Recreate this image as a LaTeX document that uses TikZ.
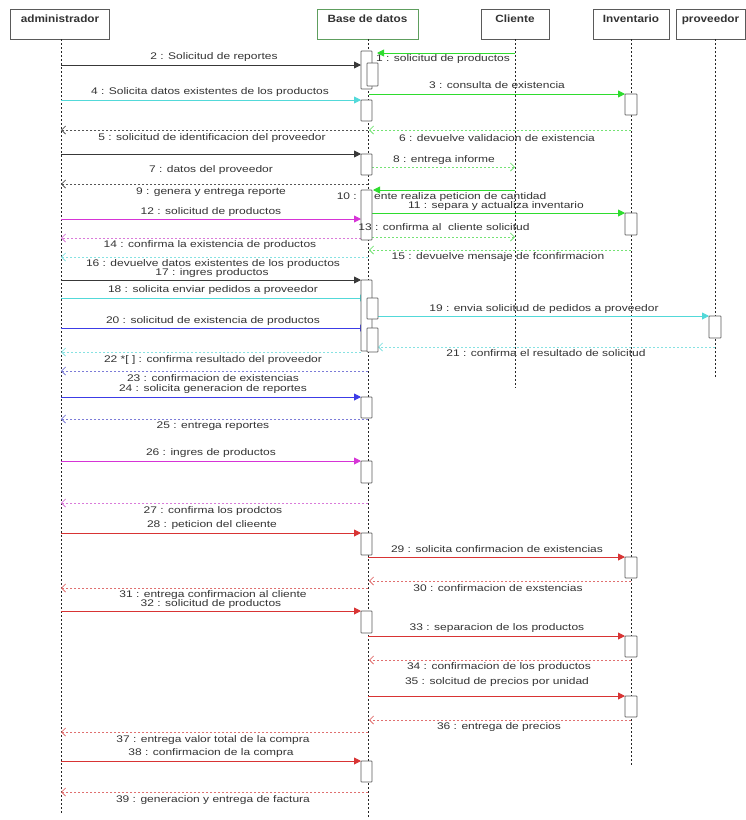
\documentclass[tikz,border=0pt]{standalone}
\usepackage{fontspec}
\setmainfont{Liberation Sans}
\newfontfamily\lblfont[FakeStretch=1.25]{Liberation Sans}
\newfontfamily\hdrfont[FakeStretch=1.12]{Liberation Sans}
\usetikzlibrary{arrows.meta}
\definecolor{cgreen}{HTML}{2EDC2E}
\definecolor{cgreenl}{HTML}{74E274}
\definecolor{ccyan}{HTML}{52D9D9}
\definecolor{ccyanl}{HTML}{86E2E2}
\definecolor{cmag}{HTML}{D634D6}
\definecolor{cmagl}{HTML}{DA7ADA}
\definecolor{cblue}{HTML}{3C3CE6}
\definecolor{cbluel}{HTML}{7C7CD8}
\definecolor{cred}{HTML}{D83434}
\definecolor{credl}{HTML}{E07070}
\definecolor{cblk}{HTML}{383838}
\definecolor{cblkl}{HTML}{555555}
\definecolor{ctxt}{HTML}{333333}
\definecolor{cbox}{HTML}{5A5A5A}
\definecolor{cbdg}{HTML}{5E9E5E}
\tikzset{
  hdr/.style={draw=cbox, line width=0.7pt, fill=white, minimum height=30pt,
    inner sep=0pt, text height=9pt, text depth=12pt, text=ctxt,
    font=\hdrfont\bfseries\fontsize{10.5}{12}\selectfont},
  life/.style={draw=black!85, line width=0.6pt, dash pattern=on 2pt off 2pt},
  sync/.style={draw=#1, line width=0.9pt, -{Triangle[length=7pt,width=7pt]}},
  ret/.style={draw=#1, line width=0.8pt, dash pattern=on 2pt off 2pt,
    -{Straight Barb[length=4pt,width=8pt]}},
  act/.style={draw=cbox, line width=0.8pt, fill=white, rounded corners=0.6pt},
  lbl/.style={inner sep=0pt, text=ctxt, text height=6.8pt, text depth=1.8pt,
    font=\lblfont\fontsize{9.6}{11}\selectfont}
}
\newcommand\msg[5]{\coordinate (#2a) at (#3,#5); \coordinate (#2b) at (#4,#5); \draw[#1] (#2a) -- (#2b);}
\newcommand\lbl[4]{\node[lbl] (#1) at (#2,#3) {#4};}
\newcommand\actbox[4]{\path[act] (#1,#3) rectangle (#2,#4);}
\begin{document}
\begin{tikzpicture}[x=1pt,y=-1pt]
\useasboundingbox (0,0) rectangle (746,820);
% headers
\node[hdr, minimum width=99pt] (admin) at (60,24) {administrador};
\node[hdr, minimum width=101pt, draw=cbdg] (bd) at (367.5,24) {Base de datos};
\node[hdr, minimum width=68pt] (cli) at (515,24) {Cliente};
\node[hdr, minimum width=76pt] (inv) at (631,24) {Inventario};
\node[hdr, minimum width=69pt] (prov) at (710.5,24) {proveedor};
% lifelines
\coordinate (adminE) at (61,815);
\coordinate (bdE) at (368,818);
\coordinate (cliE) at (515,388);
\coordinate (invE) at (631,765);
\coordinate (provS) at (715,39);
\coordinate (provE) at (715,378);
\draw[life] ([xshift=1pt]admin.south) -- (adminE);
\draw[life] ([xshift=0.5pt]bd.south) -- (bdE);
\draw[life] (cli.south) -- (cliE);
\draw[life] (inv.south) -- (invE);
\draw[life] (provS) -- (provE);
% labels
\lbl{l1}{443}{59}{1 : solicitud de productos}
\lbl{l2}{214}{57}{2 : Solicitud de reportes}
\lbl{l3}{497}{86}{3 : consulta de existencia}
\lbl{l4}{210}{92}{4 : Solicita datos existentes de los productos}
\lbl{l5}{212}{138}{5 : solicitud de identificacion del proveedor}
\lbl{l6}{497}{139}{6 : devuelve validacion de existencia}
\lbl{l7}{211}{170}{7 : datos del proveedor}
\lbl{l8}{444}{160}{8 : entrega informe}
\lbl{l9}{211}{192}{9 : genera y entrega reporte}
\node[lbl, anchor=east] (l10a) at (357,197) {10 :};
\node[lbl, anchor=west] (l10b) at (374,197) {ente realiza peticion de cantidad};
\lbl{l11}{496}{206}{11 : separa y actualiza inventario}
\lbl{l12}{211}{212}{12 : solicitud de productos}
\lbl{l14}{210}{245}{14 : confirma la existencia de productos}
\lbl{l15}{498}{257}{15 : devuelve mensaje de fconfirmacion}
\lbl{l16}{213}{263.5}{16 : devuelve datos existentes de los productos}
\lbl{l17}{212}{273}{17 : ingres productos}
\lbl{l18}{213}{290}{18 : solicita enviar pedidos a proveedor}
\lbl{l19}{544}{309}{19 : envia solicitud de pedidos a proveedor}
\lbl{l20}{213}{321}{20 : solicitud de existencia de productos}
\lbl{l21}{546}{354}{21 : confirma el resultado de solicitud}
\lbl{l22}{213}{360}{22 *[ ] : confirma resultado del proveedor}
\lbl{l23}{213}{379}{23 : confirmacion de existencias}
\lbl{l24}{213}{389}{24 : solicita generacion de reportes}
\lbl{l25}{213}{426}{25 : entrega reportes}
\lbl{l26}{211}{453}{26 : ingres de productos}
\lbl{l27}{213}{511}{27 : confirma los prodctos}
\lbl{l28}{212}{525}{28 : peticion del clieente}
\lbl{l29}{497}{550}{29 : solicita confirmacion de existencias}
\lbl{l30}{498}{589}{30 : confirmacion de exstencias}
\lbl{l31}{213}{594.5}{31 : entrega confirmacion al cliente}
\lbl{l32}{211}{604}{32 : solicitud de productos}
\lbl{l33}{497}{628}{33 : separacion de los productos}
\lbl{l34}{499}{667}{34 : confirmacion de los productos}
\lbl{l35}{497}{682}{35 : solcitud de precios por unidad}
\lbl{l36}{499}{727}{36 : entrega de precios}
\lbl{l37}{213}{740}{37 : entrega valor total de la compra}
\lbl{l38}{211}{753}{38 : confirmacion de la compra}
\lbl{l39}{213}{800}{39 : generacion y entrega de factura}
% synchronous messages
\msg{sync=cgreen}{m1}{515}{377}{53}
\msg{sync=cblk}{m2}{61}{361}{65}
\msg{sync=cgreen}{m3}{369}{625}{94}
\msg{sync=ccyan}{m4}{61}{361}{100}
\msg{sync=cblk}{m7}{61}{361}{154}
\msg{sync=cgreen}{m10}{515}{373}{190}
\msg{sync=cgreen}{m11}{372}{625}{213}
\msg{sync=cmag}{m12}{61}{361}{219}
\msg{sync=cblk}{m17}{61}{361}{280}
\msg{sync=ccyan}{m18}{61}{367}{298}
\msg{sync=ccyan}{m19}{378}{709}{316}
\msg{sync=cblue}{m20}{61}{367}{328}
\msg{sync=cblue}{m24}{61}{361}{397}
\msg{sync=cmag}{m26}{61}{361}{461}
\msg{sync=cred}{m28}{61}{361}{533}
\msg{sync=cred}{m29}{368}{625}{557}
\msg{sync=cred}{m32}{61}{361}{611}
\msg{sync=cred}{m33}{368}{625}{636}
\msg{sync=cred}{m35}{368}{625}{696}
\msg{sync=cred}{m38}{61}{361}{761}
% return messages
\msg{ret=cblkl}{r5}{368}{61}{130}
\msg{ret=cgreenl}{r6}{631}{369}{130}
\msg{ret=cgreenl}{r8}{372}{515}{167}
\msg{ret=cblkl}{r9}{368}{61}{184}
\msg{ret=cgreenl}{r13}{372}{515}{237}
\msg{ret=cmagl}{r14}{361}{61}{238}
\msg{ret=cgreenl}{r15}{631}{369}{250}
\msg{ret=ccyanl}{r16}{368}{61}{257}
\msg{ret=ccyanl}{r21}{715}{378}{347}
\msg{ret=ccyanl}{r22}{361}{61}{352}
\msg{ret=cbluel}{r23}{368}{61}{371}
\msg{ret=cbluel}{r25}{368}{61}{419}
\msg{ret=cmagl}{r27}{368}{61}{503}
\msg{ret=credl}{r30}{631}{369}{581}
\msg{ret=credl}{r31}{368}{61}{588}
\msg{ret=credl}{r34}{631}{369}{660}
\msg{ret=credl}{r36}{631}{369}{720}
\msg{ret=credl}{r37}{368}{61}{732}
\msg{ret=credl}{r39}{368}{61}{792}
% activation boxes
\actbox{361}{372}{51}{89}
\actbox{367}{378}{63}{86}
\actbox{361}{372}{100}{121}
\actbox{361}{372}{154}{175}
\actbox{361}{372}{190}{240}
\actbox{361}{372}{280}{351}
\actbox{367}{378}{298}{319}
\actbox{367}{378}{328}{352}
\actbox{361}{372}{397}{418}
\actbox{361}{372}{461}{483}
\actbox{361}{372}{533}{555}
\actbox{361}{372}{611}{633}
\actbox{361}{372}{761}{782}
\actbox{625}{637}{94}{115}
\actbox{625}{637}{213}{235}
\actbox{625}{637}{557}{578}
\actbox{625}{637}{636}{657}
\actbox{625}{637}{696}{717}
\actbox{709}{721}{316}{338}
\lbl{l13}{444}{228}{13 : confirma al\ \ cliente solicitud}
\end{tikzpicture}
\end{document}
